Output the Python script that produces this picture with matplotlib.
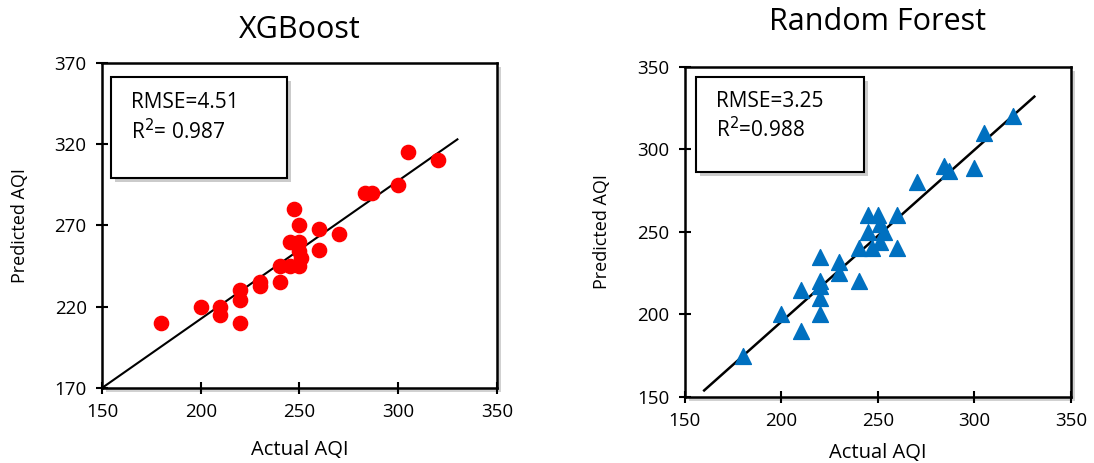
import matplotlib
matplotlib.use('Agg')
import matplotlib.pyplot as plt
import matplotlib.patheffects as pe
from matplotlib.patches import Rectangle

# XGBoost: actual vs predicted
xgb_actual = [180, 200, 210, 210, 220, 220, 220, 230, 230, 240, 240, 245, 245,
              250, 250, 250, 247, 251, 250, 260, 260, 270, 283, 287, 300, 305, 320]
xgb_pred = [210, 220, 220, 215, 230, 224, 210, 235, 233, 235, 245, 245, 260,
            260, 245, 270, 280, 250, 254, 268, 255, 265, 290, 290, 295, 315, 310]
xgb_fit_x = [150, 330]
xgb_fit_y = [170, 323]

# Random Forest: actual vs predicted
rf_actual = [180, 200, 210, 210, 220, 220, 220, 220, 220, 230, 230, 240, 240,
             245, 245, 247, 250, 251, 251, 253, 260, 260, 270, 284, 287, 300, 305, 320]
rf_pred = [175, 200, 190, 215, 235, 220, 217, 210, 200, 232, 225, 220, 240,
           260, 250, 240, 260, 255, 244, 250, 260, 240, 280, 290, 287, 289, 310, 320]
rf_fit_x = [160, 331]
rf_fit_y = [154, 332]

xticks = [150, 200, 250, 300, 350]
xgb_yticks = [170, 220, 270, 320, 370]
rf_yticks = [150, 200, 250, 300, 350]

font = ['Open Sans', 'DejaVu Sans']

fig = plt.figure(figsize=(10.94, 4.63), dpi=100)
ax1 = fig.add_axes([0.0932, 0.162, 0.361, 0.702])
ax2 = fig.add_axes([0.626, 0.1425, 0.353, 0.713])

shadow = [pe.SimplePatchShadow(offset=(3, -3), shadow_rgbFace='0.7', alpha=0.6), pe.Normal()]


def style(ax, yticks, title, title_y, xlab_y, ylab_x):
    ax.set_xlim(150, 350)
    ax.set_ylim(yticks[0], yticks[-1])
    ax.set_xticks(xticks)
    ax.set_yticks(yticks)
    for s in ax.spines.values():
        s.set_linewidth(1.8)
        s.set_color('black')
    ax.tick_params(direction='inout', length=8, width=1.5, pad=7)
    for lab in ax.get_xticklabels() + ax.get_yticklabels():
        lab.set_family(font)
        lab.set_fontsize(13.5)
    ax.patch.set_path_effects(shadow)
    ax.set_xlabel('Actual AQI', family=font, fontsize=14.5)
    ax.set_ylabel('Predicted AQI', family=font, fontsize=13)
    ax.xaxis.set_label_coords(0.5, xlab_y)
    ax.yaxis.set_label_coords(ylab_x, 0.5)
    ax.text(0.5, title_y, title, transform=ax.transAxes, family=font,
            fontsize=22, ha='center', va='center')


style(ax1, xgb_yticks, 'XGBoost', 1.10, -0.16, -0.185)
style(ax2, rf_yticks, 'Random Forest', 1.135, -0.14, -0.19)

ax1.plot(xgb_fit_x, xgb_fit_y, color='black', lw=1.5, zorder=2)
ax1.scatter(xgb_actual, xgb_pred, s=105, color='#FF0000', marker='o', zorder=3, clip_on=False)

ax2.plot(rf_fit_x, rf_fit_y, color='black', lw=1.8, zorder=2)
ax2.scatter(rf_actual, rf_pred, s=130, color='#0070C0', marker='^', zorder=3)


def stat_box(ax, x0, y0, w, h, tx, ty, lines):
    r = Rectangle((x0, y0), w, h, transform=ax.transAxes, facecolor='white',
                  edgecolor='black', lw=1.5, zorder=4)
    r.set_path_effects([pe.SimplePatchShadow(offset=(3, -3), shadow_rgbFace='0.6', alpha=0.5), pe.Normal()])
    ax.add_patch(r)
    for t, yy in zip(lines, ty):
        ax.text(tx, yy, t, transform=ax.transAxes, family=font, fontsize=15,
                va='center', zorder=5)


stat_box(ax1, 0.023, 0.646, 0.445, 0.311, 0.073, [0.877, 0.788], ['RMSE=4.51', 'R$^2$= 0.987'])
stat_box(ax2, 0.0285, 0.682, 0.435, 0.288, 0.08, [0.894, 0.809], ['RMSE=3.25', 'R$^2$=0.988'])

fig.savefig('out.png', dpi=100)
